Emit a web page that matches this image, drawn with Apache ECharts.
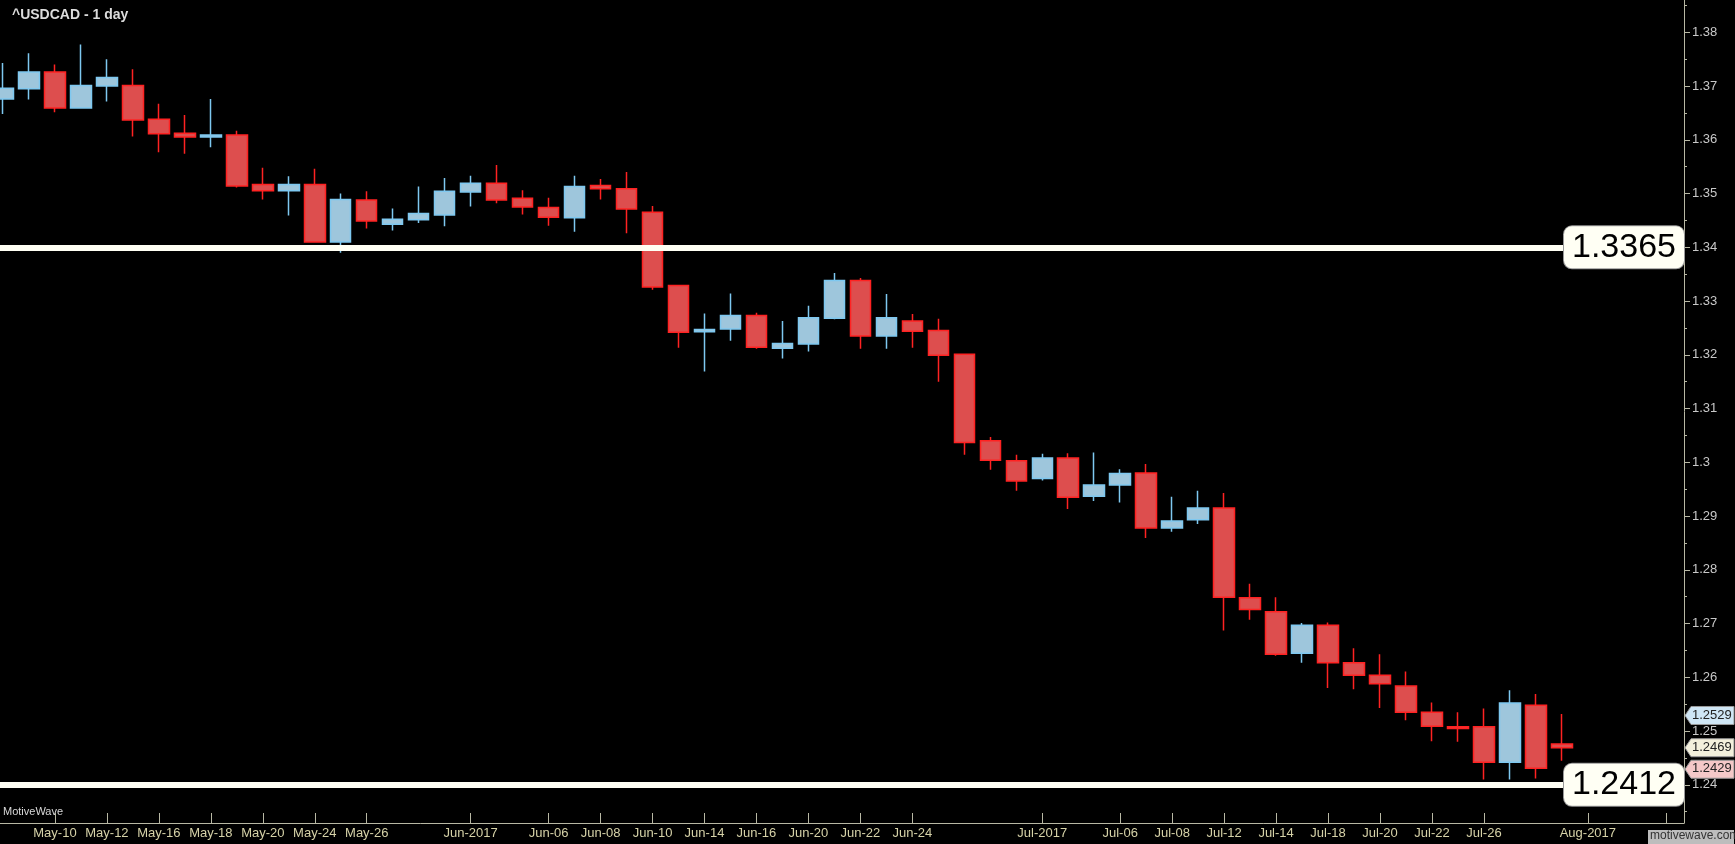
<!DOCTYPE html>
<html><head><meta charset="utf-8">
<script src="https://cdn.jsdelivr.net/npm/echarts@6/dist/echarts.min.js"></script>
<style>html,body{margin:0;padding:0;background:#000;}#c{width:1735px;height:844px;}</style>
</head><body><div id="c"></div>
<script>
// open, close, low, high (one per trading day)
const opens  = [1.3676,1.3695,1.3726,1.3659,1.3700,1.3701,1.3638,1.3612,1.3605,1.3609,1.3517,1.3505,1.3517,1.3410,1.3488,1.3443,1.3451,1.3460,1.3503,1.3519,1.3491,1.3474,1.3455,1.3515,1.3509,1.3465,1.3329,1.3243,1.3248,1.3273,1.3212,1.3220,1.3268,1.3338,1.3235,1.3263,1.3245,1.3201,1.3040,1.3003,1.2970,1.3008,1.2937,1.2958,1.2980,1.2878,1.2893,1.2915,1.2748,1.2722,1.2645,1.2697,1.2627,1.2604,1.2584,1.2535,1.2508,1.2508,1.2442,1.2548,1.2476];
const closes = [1.3696,1.3726,1.3659,1.3701,1.3716,1.3637,1.3611,1.3605,1.3609,1.3514,1.3505,1.3517,1.3410,1.3489,1.3449,1.3452,1.3463,1.3504,1.3519,1.3488,1.3475,1.3456,1.3513,1.3509,1.3471,1.3326,1.3242,1.3247,1.3273,1.3214,1.3221,1.3269,1.3338,1.3235,1.3269,1.3244,1.3199,1.3037,1.3004,1.2965,1.3008,1.2935,1.2958,1.2979,1.2878,1.2891,1.2915,1.2749,1.2726,1.2643,1.2697,1.2627,1.2604,1.2588,1.2535,1.2509,1.2505,1.2442,1.2552,1.2431,1.2469];
const lows   = [1.3648,1.3675,1.3651,1.3659,1.3671,1.3606,1.3577,1.3574,1.3586,1.3511,1.3489,1.3459,1.3410,1.3390,1.3435,1.3431,1.3445,1.3439,1.3476,1.3482,1.3461,1.3440,1.3429,1.3489,1.3426,1.3321,1.3213,1.3169,1.3226,1.3211,1.3193,1.3206,1.3266,1.3211,1.3211,1.3213,1.3150,1.3014,1.2986,1.2947,1.2966,1.2913,1.2928,1.2925,1.2859,1.2871,1.2885,1.2687,1.2707,1.2640,1.2627,1.2580,1.2578,1.2543,1.2520,1.2481,1.2480,1.2410,1.2410,1.2412,1.2445];
const highs  = [1.3743,1.3761,1.3740,1.3777,1.3750,1.3731,1.3667,1.3646,1.3676,1.3617,1.3548,1.3532,1.3546,1.3500,1.3504,1.3472,1.3513,1.3529,1.3533,1.3553,1.3506,1.3492,1.3533,1.3527,1.3540,1.3477,1.3329,1.3277,1.3314,1.3278,1.3263,1.3291,1.3352,1.3343,1.3313,1.3276,1.3267,1.3201,1.3047,1.3014,1.3016,1.3017,1.3018,1.2987,1.2997,1.2936,1.2947,1.2943,1.2774,1.2749,1.2701,1.2702,1.2654,1.2643,1.2611,1.2553,1.2535,1.2542,1.2576,1.2569,1.2532];
const tickIdx    = [2,4,6,8,10,12,14,18,21,23,25,27,29,31,33,35,40,43,45,47,49,51,53,55,57,61,64];
const tickLabels = ['May-10','May-12','May-16','May-18','May-20','May-24','May-26','Jun-2017','Jun-06','Jun-08','Jun-10','Jun-14','Jun-16','Jun-20','Jun-22','Jun-24','Jul-2017','Jul-06','Jul-08','Jul-12','Jul-14','Jul-18','Jul-20','Jul-22','Jul-26','Aug-2017',''];
const yTicks = [1.24,1.25,1.26,1.27,1.28,1.29,1.30,1.31,1.32,1.33,1.34,1.35,1.36,1.37,1.38];
const yMinor = [1.235,1.245,1.255,1.265,1.275,1.285,1.295,1.305,1.315,1.325,1.335,1.345,1.355,1.365,1.375,1.385];
const levels = [1.3365, 1.2412];
const tagValues = [1.2529, 1.2469, 1.2429];
const tagColors = ['#cfe6f5', '#f3f0dc', '#f4c8c8'];

const data = opens.map((o,i)=>[i,o,closes[i],lows[i],highs[i]]);
const labelMap = {}; tickIdx.forEach((t,i)=>labelMap[t]=tickLabels[i]);
const axisCol = '#b8b8a4';
const chart = echarts.init(document.getElementById('c'));
chart.setOption({
  backgroundColor:'#000',
  animation:false,
  title:{text:'^USDCAD - 1 day',left:7,top:3,textStyle:{color:'#dcdcdc',fontSize:14,fontWeight:'bold',fontFamily:'Liberation Sans'}},
  grid:{left:0,right:51,top:0,bottom:21,containLabel:false},
  xAxis:{type:'value',min:-0.115,max:64.7,
    axisLine:{show:true,onZero:false,lineStyle:{color:axisCol,width:1}},
    axisTick:{show:true,length:10,inside:true,customValues:tickIdx,lineStyle:{color:axisCol}},
    axisLabel:{customValues:tickIdx,formatter:v=>labelMap[v]||'',color:'#d6d2a8',fontSize:13,margin:4,fontFamily:'Liberation Sans Narrow, Liberation Sans'},
    splitLine:{show:false}},
  yAxis:[{type:'value',position:'right',min:1.2329,max:1.386,
    axisLine:{show:true,onZero:false,lineStyle:{color:axisCol}},
    axisTick:{show:true,length:6,customValues:yTicks,lineStyle:{color:axisCol}},
    axisLabel:{customValues:yTicks,formatter:v=>String(+v.toFixed(2)),color:'#c8c8c8',fontSize:13,margin:8,fontFamily:'Liberation Sans'},
    splitLine:{show:false}},
    {type:'value',position:'right',min:1.2329,max:1.386,
    axisLine:{show:false,onZero:false},axisLabel:{show:false},splitLine:{show:false},
    axisTick:{show:true,length:3,customValues:yMinor,lineStyle:{color:axisCol}}}],
  series:[{
    type:'candlestick',data:data,encode:{x:0,y:[1,2,3,4]},barWidth:21,
    itemStyle:{color:'#9ec6dc',color0:'#dd4e4e',borderColor:'#7ec8f0',borderColor0:'#ff2222',borderWidth:1.5},
    markLine:{silent:true,symbol:'none',animation:false,data:
      levels.map(v=>({yAxis:v,lineStyle:{color:'#fffff4',width:6,type:'solid'},
        label:{show:true,position:'insideEnd',distance:0,formatter:String(v),color:'#000',fontSize:34,fontFamily:'Liberation Sans',
          backgroundColor:'#fffff4',borderRadius:8,padding:[6,8,2,8],borderColor:'#999',borderWidth:1}}))
    }
  }]
});
const axisX = chart.convertToPixel({xAxisIndex:0}, 64.7);
const tagGraphics = tagValues.map((v,i)=>{
  const y = chart.convertToPixel({yAxisIndex:0}, v);
  return {type:'group',x:axisX+1,y:y,children:[
    {type:'polygon',shape:{points:[[0,0],[6,-9],[49,-9],[49,9],[6,9]]},style:{fill:tagColors[i],stroke:'#999',lineWidth:1}},
    {type:'text',x:7,y:-7,style:{text:v.toFixed(4),fill:'#222',fontSize:13,fontFamily:'Liberation Sans'}}
  ]};
});
chart.setOption({graphic:[
  {type:'text',left:3,top:806,style:{text:'MotiveWave',fill:'#d8d8d8',fontSize:11,fontFamily:'Liberation Sans Narrow, Liberation Sans'}},
  {type:'rect',shape:{x:1648,y:830,width:86,height:14},style:{fill:'#bdbdbd'}},
  {type:'text',left:1650,top:830,style:{text:'motivewave.com',fill:'#333',fontSize:12,fontFamily:'Liberation Sans Narrow, Liberation Sans'}},
  ...tagGraphics
]});
</script></body></html>
